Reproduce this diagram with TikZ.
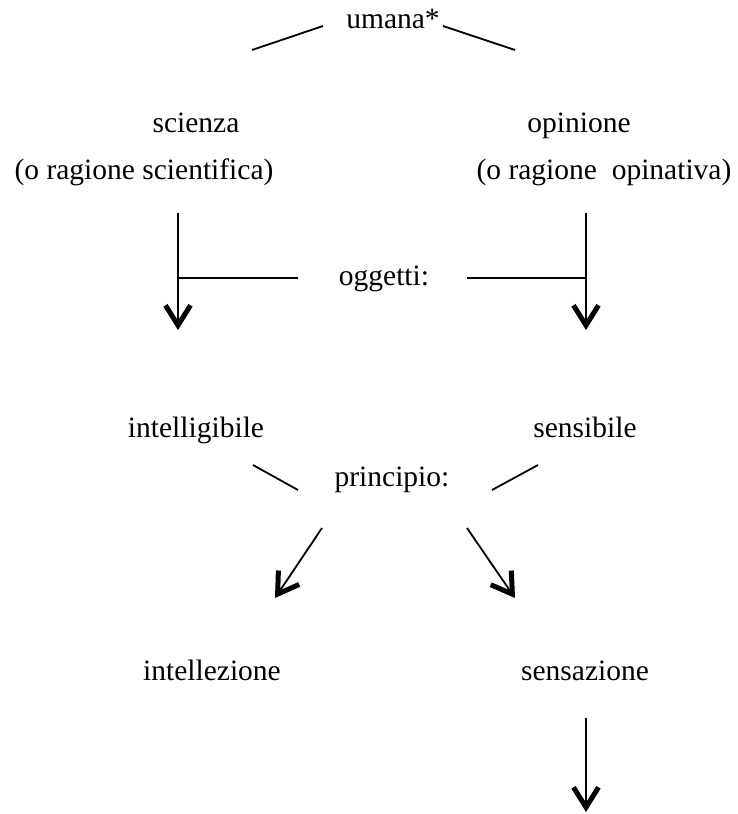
\documentclass[tikz,border=0pt]{standalone}
\usepackage{fontspec}
\setmainfont{Liberation Serif}
\usetikzlibrary{arrows.meta}
\tikzset{x=1pt, y=-1pt,
    every node/.style={
        anchor=base,
        inner sep=0pt,
        font=\fontsize{29.5}{35}\selectfont},
    link/.style={
        draw,
        line width=1.8pt},
    arrow/.style={
        link,
        -{Straight Barb[length=20pt,width=25pt,line width=5pt]}}}

\begin{document}
\begin{tikzpicture}
        \useasboundingbox (0,0) rectangle (737,814);

        \node (umana) at (393,28) {umana*};
        \node (scienza) at (196,132) {scienza};
        \node (scientifica) at (144,179) {(o ragione scientifica)};
        \node (opinione) at (579,132) {opinione};
        \node (opinativa) at (604,179) {(o ragione\ \ opinativa)};
        \node (oggetti) at (384,285) {oggetti:};
        \node (intelligibile) at (196,437) {intelligibile};
        \node (sensibile) at (585,437) {sensibile};
        \node (principio) at (392,486) {principio:};
        \node (intellezione) at (212,680) {intellezione};
        \node (sensazione) at (585,680) {sensazione};

        % end points of the connectors
        \coordinate (umanaL) at (252,50);
        \coordinate (umanaR) at (515,50);
        \coordinate (scienzaTop) at (178,213);
        \coordinate (scienzaEnd) at (178,330);
        \coordinate (scienzaMid) at (178,278);
        \coordinate (opinioneTop) at (586,213);
        \coordinate (opinioneEnd) at (586,330);
        \coordinate (opinioneMid) at (586,278);
        \coordinate (principioL) at (253,465);
        \coordinate (principioR) at (538,465);
        \coordinate (intellezioneTop) at (275,598);
        \coordinate (sensazioneTop) at (515,598);
        \coordinate (sensazioneLow) at (586,718);
        \coordinate (sensazioneEnd) at (586,812);

        \draw[link] (umanaL) -- (323,26);
        \draw[link] (443,26) -- (umanaR);
        \draw[arrow] (scienzaTop) -- (scienzaEnd);
        \draw[link] (298,278) -- (scienzaMid);
        \draw[link] (467,278) -- (opinioneMid);
        \draw[arrow] (opinioneTop) -- (opinioneEnd);
        \draw[link] (principioL) -- (298,490);
        \draw[link] (492,490) -- (principioR);
        \draw[arrow] (322,528) -- (intellezioneTop);
        \draw[arrow] (467,528) -- (sensazioneTop);
        \draw[arrow] (sensazioneLow) -- (sensazioneEnd);
    \end{tikzpicture}
\end{document}
